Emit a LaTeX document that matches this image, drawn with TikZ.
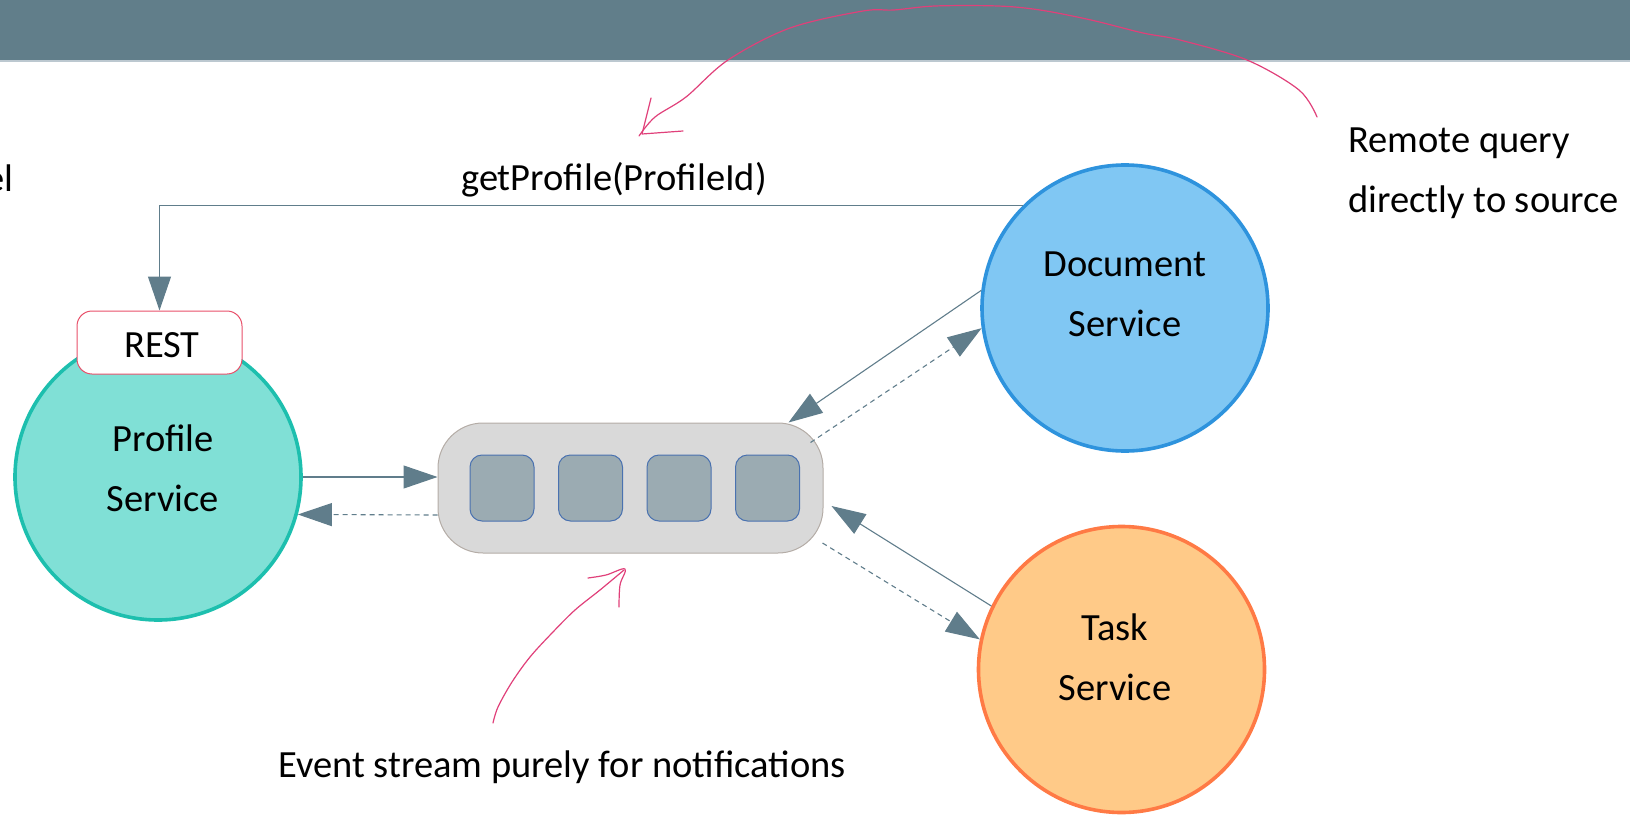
\documentclass[tikz,border=0pt]{standalone}
\usepackage{fontspec}
\setmainfont{Carlito}
\usetikzlibrary{arrows.meta}

\definecolor{banner}{HTML}{617E8A}
\definecolor{bannerline}{HTML}{BCC8D0}
\definecolor{slate}{HTML}{607D8B}
\definecolor{profilefill}{HTML}{80E0D6}
\definecolor{profileline}{HTML}{1DBFAE}
\definecolor{docfill}{HTML}{80C7F3}
\definecolor{docline}{HTML}{2E93DD}
\definecolor{taskfill}{HTML}{FFCA88}
\definecolor{taskline}{HTML}{FF7A45}
\definecolor{restline}{HTML}{E8506A}
\definecolor{busfill}{HTML}{D9D9D9}
\definecolor{busline}{HTML}{B4ACA6}
\definecolor{slotfill}{HTML}{9BABB2}
\definecolor{slotline}{HTML}{4A72B0}
\definecolor{ink}{HTML}{E0407A}

\tikzset{
  txt/.style={font=\fontsize{38.5}{60}\selectfont, text=black, inner sep=0pt},
  service/.style={circle, minimum size=286pt, line width=3.6pt, inner sep=0pt},
  svclabel/.style={txt, align=center},
  flow/.style={draw=slate, line width=1.1pt,
    -{Triangle[length=34pt, width=23pt]}},
  notify/.style={flow, dash pattern=on 5pt off 4pt},
  slot/.style={draw=slotline, fill=slotfill, line width=1pt, rounded corners=12pt,
    minimum width=64pt, minimum height=66pt, inner sep=0pt},
  hand/.style={draw=ink, line width=1.2pt, line cap=round, line join=round},
}

\begin{document}
\begin{tikzpicture}[x=1pt, y=-1pt]
\useasboundingbox (0,0) rectangle (1630,816);
\clip (0,0) rectangle (1630,816);

% header band
\fill[banner] (0,0) rectangle (1630,60);
\fill[bannerline] (0,60) rectangle (1630,62);

% text cut by the left margin
\node[txt, anchor=base east] (edge) at (14,191) {el};

% services
\node[service, draw=profileline, fill=profilefill] (profile) at (158,477) {};
\node[svclabel] (profile-label) at (163,468) {Profile\\Service};
\node[draw=restline, fill=white, line width=1pt, rounded corners=15pt,
      minimum width=165pt, minimum height=63pt, inner sep=0pt] (rest) at (159.5,342.5) {};
\node[txt] (rest-label) at (162,345) {REST};

\node[service, draw=docline, fill=docfill] (doc) at (1125,308) {};
\node[svclabel] (doc-label) at (1125,294.5) {Document\\Service};

\node[service, draw=taskline, fill=taskfill] (task) at (1121.5,669.5) {};
\node[svclabel] (task-label) at (1115,657.5) {Task\\Service};

% event stream with its queued messages
\node[draw=busline, fill=busfill, line width=1pt, rounded corners=45pt,
      minimum width=385pt, minimum height=130pt, inner sep=0pt] (bus) at (630.5,488) {};
\node[slot] (m1) at (502,488) {};
\node[slot] (m2) at (590.5,488) {};
\node[slot] (m3) at (679,488) {};
\node[slot] (m4) at (767.5,488) {};

% remote query
\draw[flow] (doc.135.3) -| (rest.north);
\node[txt] (query) at (614,180) {getProfile(ProfileId)};

% events
\draw[flow] (profile.0) -- ([yshift=11pt]bus.west);
\draw[notify] ([yshift=-27pt]bus.west) -- (profile.345);

\draw[flow] (doc.173) -- ([xshift=-35pt]bus.north east);
\draw[notify] ([xshift=-13pt,yshift=-20pt]bus.north east) -- (doc.188);

\draw[flow] (task.154) -- ([xshift=8pt,yshift=-18pt]bus.east);
\draw[notify] ([xshift=-1pt,yshift=-55pt]bus.east) -- (task.168);

% annotations
\node[txt, align=left, anchor=west] (remote-note) at (1348,173) {Remote query\\directly to source};
\node[txt] (stream-note) at (562,767) {Event stream purely for notifications};

\draw[hand] plot[smooth, tension=0.55] coordinates {
  (1317,117) (1299,90) (1247,60) (1180,40) (1143,33) (1091,20) (1040,10)
  (998,6) (935,6) (894,10) (863,11) (790,28) (728,60) (686,97) (655,117) (639,136)};
\draw[hand] (651,98) -- (642,134) -- (683,131);

\draw[hand] plot[smooth, tension=0.55] coordinates {
  (493,723) (498,707) (512,682) (530,657) (552,633) (575,610) (600,590) (624,570)};
\draw[hand] plot[smooth, tension=0.6] coordinates {(588,578) (606,575) (625,569) (620,585) (619,607)};
\end{tikzpicture}
\end{document}
